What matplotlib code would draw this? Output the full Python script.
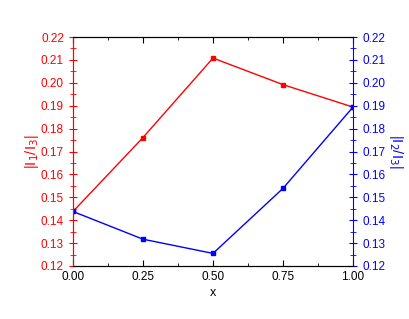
import matplotlib
matplotlib.use('Agg')
import matplotlib.pyplot as plt
from matplotlib.ticker import MultipleLocator

plt.rcParams['font.family'] = 'Liberation Sans'

# data
x = [0.0, 0.25, 0.5, 0.75, 1.0]
r13 = [0.1438, 0.1761, 0.2108, 0.1992, 0.1894]
r23 = [0.1438, 0.1317, 0.1255, 0.1539, 0.1894]

fig = plt.figure(figsize=(4.09, 3.19), dpi=100)
ax = fig.add_axes([73 / 409, 1 - 266 / 319, 280 / 409, 229 / 319])
ax2 = ax.twinx()

ax.plot(x, r13, '-s', color='red', lw=1, ms=3.5)
ax2.plot(x, r23, '-s', color='blue', lw=1, ms=3.5)

for a in (ax, ax2):
    a.set_ylim(0.12, 0.22)
    a.yaxis.set_major_locator(MultipleLocator(0.01))
    a.yaxis.set_minor_locator(MultipleLocator(0.005))
ax.set_xlim(0, 1)
ax.xaxis.set_major_locator(MultipleLocator(0.25))
ax.xaxis.set_minor_locator(MultipleLocator(0.125))

ax.tick_params(axis='x', which='both', direction='in', top=True, labelsize=8.5)
ax.tick_params(axis='x', which='major', length=4)
ax.tick_params(axis='x', which='minor', length=2.5)
ax.tick_params(axis='y', which='both', direction='inout', colors='red', labelsize=8.5)
ax.tick_params(axis='y', which='major', length=6)
ax.tick_params(axis='y', which='minor', length=4)
ax2.tick_params(axis='y', which='both', direction='inout', colors='blue', labelsize=8.5)
ax2.tick_params(axis='y', which='major', length=6)
ax2.tick_params(axis='y', which='minor', length=4)

ax.spines['left'].set_color('red')
ax2.spines['left'].set_color('red')
ax2.spines['right'].set_color('blue')
ax.spines['right'].set_visible(False)

ax.set_xlabel('x', fontsize=9, labelpad=3)
ax.set_ylabel('|I$_1$/I$_3$|', color='red', fontsize=10.5, labelpad=0)
ax2.set_ylabel('|I$_2$/I$_3$|', color='blue', fontsize=10.5, labelpad=1,
               rotation=270, va='bottom')

fig.savefig('out.png', dpi=100)
